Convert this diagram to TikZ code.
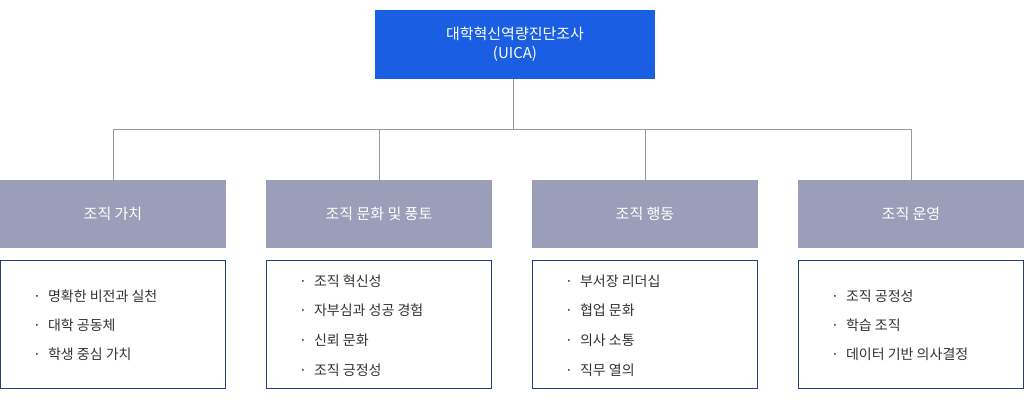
\documentclass[tikz,border=0pt]{standalone}
\usepackage{fontspec}
\setmainfont{Noto Sans CJK KR}
\definecolor{topblue}{HTML}{1A5FE3}
\definecolor{catgray}{HTML}{9A9EB8}
\definecolor{frameblue}{HTML}{23407A}
\definecolor{txt}{HTML}{333333}
\definecolor{linegray}{HTML}{999999}
\begin{document}
\begin{tikzpicture}[x=1pt,y=-1pt,
  topbox/.style={fill=topblue,text=white,minimum width=280pt,minimum height=69pt,inner sep=0,align=center,font=\fontsize{15}{19}\selectfont},
  catbox/.style={fill=catgray,text=white,minimum width=226pt,minimum height=68pt,inner sep=0,font=\fontsize{15}{18}\selectfont},
  listbox/.style={draw=frameblue,line width=1pt,fill=white,minimum width=225pt,minimum height=128pt,inner sep=0},
  item/.style={anchor=west,text=txt,inner sep=0,font=\fontsize{14}{17}\selectfont},
  conn/.style={draw=linegray,line width=0.8pt}]
\useasboundingbox (0,0) rectangle (1024,403);
\node[topbox] (top) at (515,44.5) {대학혁신역량진단조사\\(UICA)};
\foreach \i/\cx/\t in {1/113/조직 가치,2/379/조직 문화 및 풍토,3/645/조직 행동,4/911/조직 운영}{
  \node[catbox] (c\i) at (\cx,214) {\t};
  \node[listbox] (l\i) at (\cx,324.5) {};
  \coordinate (j\i) at (\cx,129);
}
\coordinate (jt) at (513,129);
\draw[conn] (top.south -| jt) -- (jt);
\draw[conn] (j1) -- (j4);
\foreach \i in {1,...,4}{\draw[conn] (j\i) -- (c\i.north);}
\node[item] (a1) at (33,296) {·\hspace{7pt}명확한 비전과 실천};
\node[item] (a2) at (33,325) {·\hspace{7pt}대학 공동체};
\node[item] (a3) at (33,354) {·\hspace{7pt}학생 중심 가치};
\node[item] (b1) at (299,281) {·\hspace{7pt}조직 혁신성};
\node[item] (b2) at (299,310) {·\hspace{7pt}자부심과 성공 경험};
\node[item] (b3) at (299,340) {·\hspace{7pt}신뢰 문화};
\node[item] (b4) at (299,370) {·\hspace{7pt}조직 긍정성};
\node[item] (d1) at (565,281) {·\hspace{7pt}부서장 리더십};
\node[item] (d2) at (565,310) {·\hspace{7pt}협업 문화};
\node[item] (d3) at (565,340) {·\hspace{7pt}의사 소통};
\node[item] (d4) at (565,370) {·\hspace{7pt}직무 열의};
\node[item] (e1) at (831,296) {·\hspace{7pt}조직 공정성};
\node[item] (e2) at (831,325) {·\hspace{7pt}학습 조직};
\node[item] (e3) at (831,354) {·\hspace{7pt}데이터 기반 의사결정};
\end{tikzpicture}
\end{document}
